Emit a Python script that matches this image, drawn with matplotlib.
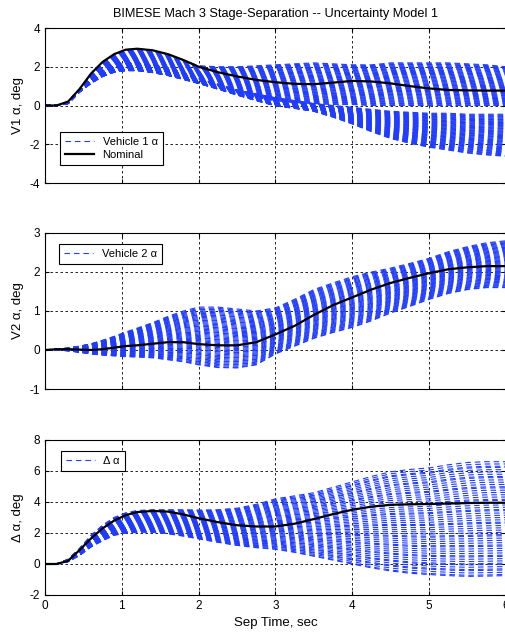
import numpy as np
import matplotlib
matplotlib.use("Agg")
import matplotlib.pyplot as plt

plt.rcParams["font.family"] = ["Liberation Sans", "DejaVu Sans"]
plt.rcParams["axes.unicode_minus"] = False

T = [0, 0.15, 0.3, 0.45, 0.6, 0.75, 0.9, 1.05, 1.2, 1.4, 1.6, 1.8, 2.0, 2.25, 2.5,
     2.75, 3.0, 3.25, 3.5, 3.75, 4.0, 4.25, 4.5, 4.75, 5.0, 5.25, 5.5, 5.75, 6.0]

# -----------------------------
# Vehicle 1 alpha
# -----------------------------
V1_NOM = [0, 0, 0.2, 0.85, 1.65, 2.25, 2.65, 2.88, 2.93, 2.85, 2.65, 2.35, 2.0, 1.72, 1.5,
          1.32, 1.2, 1.12, 1.1, 1.18, 1.27, 1.24, 1.14, 1.0, 0.88, 0.8, 0.78, 0.77, 0.77]
# upper band of dispersed runs
V1_A_HI = [0, 0, 0.2, 0.85, 1.65, 2.25, 2.65, 2.88, 2.93, 2.85, 2.65, 2.35, 2.05, 2.0, 2.0,
           2.05, 2.1, 2.15, 2.2, 2.15, 2.1, 2.1, 2.2, 2.2, 2.2, 2.2, 2.15, 2.1, 2.0]
V1_A_LO = [0, 0, 0.1, 0.7, 1.15, 1.5, 1.72, 1.8, 1.8, 1.7, 1.55, 1.35, 1.14, 0.85, 0.6,
           0.4, 0.25, 0.15, 0.1, 0.05, 0.05, 0.0, 0.0, 0.0, 0.0, 0.0, 0.0, 0.0, 0.0]
# lower band of dispersed runs
V1_B_HI = [0, 0, 0.15, 0.75, 1.3, 1.75, 2.05, 2.2, 2.2, 2.1, 1.95, 1.7, 1.4, 1.1, 0.8,
           0.6, 0.4, 0.25, 0.1, 0.0, -0.1, -0.2, -0.3, -0.35, -0.4, -0.4, -0.45, -0.45, -0.45]
V1_B_LO = [0, 0, 0.1, 0.7, 1.15, 1.5, 1.72, 1.8, 1.8, 1.7, 1.55, 1.35, 1.14, 0.85, 0.54,
           0.25, -0.02, -0.15, -0.3, -0.6, -0.95, -1.35, -1.7, -1.95, -2.15, -2.3, -2.45, -2.55, -2.62]

# -----------------------------
# Vehicle 2 alpha
# -----------------------------
V2_NOM = [0, 0.02, 0.02, 0.01, 0.0, 0.02, 0.06, 0.1, 0.12, 0.16, 0.2, 0.2, 0.15, 0.12, 0.12,
          0.2, 0.4, 0.62, 0.9, 1.15, 1.35, 1.55, 1.72, 1.85, 1.97, 2.07, 2.12, 2.15, 2.15]
V2_HI = [0, 0.02, 0.05, 0.1, 0.16, 0.25, 0.35, 0.46, 0.56, 0.7, 0.86, 1.0, 1.1, 1.1, 1.05,
         1.0, 1.08, 1.3, 1.55, 1.72, 1.88, 2.0, 2.1, 2.22, 2.35, 2.52, 2.65, 2.75, 2.8]
V2_LO = [0, 0.0, -0.02, -0.06, -0.1, -0.13, -0.15, -0.17, -0.18, -0.2, -0.25, -0.3, -0.38, -0.45, -0.46,
         -0.38, -0.1, 0.1, 0.3, 0.45, 0.58, 0.75, 0.95, 1.12, 1.3, 1.45, 1.55, 1.6, 1.6]

# -----------------------------
# Delta alpha
# -----------------------------
DA_NOM = [0, 0, 0.2, 0.9, 1.65, 2.3, 2.8, 3.15, 3.35, 3.42, 3.38, 3.2, 2.95, 2.7, 2.5,
          2.42, 2.42, 2.6, 2.9, 3.22, 3.5, 3.7, 3.82, 3.85, 3.87, 3.9, 3.93, 3.95, 3.95]
DA_HI = [0, 0, 0.3, 1.0, 1.85, 2.5, 3.0, 3.3, 3.45, 3.5, 3.5, 3.5, 3.48, 3.5, 3.6,
         3.85, 4.2, 4.4, 4.6, 4.95, 5.3, 5.65, 5.95, 6.1, 6.2, 6.4, 6.55, 6.6, 6.6]
DA_LO = [0, 0, 0.15, 0.55, 1.1, 1.5, 1.85, 2.0, 2.05, 2.05, 1.95, 1.8, 1.62, 1.4, 1.2,
         1.05, 0.95, 0.75, 0.5, 0.25, 0.0, -0.25, -0.45, -0.6, -0.68, -0.75, -0.8, -0.78, -0.75]

# Position of each dispersed run inside its band (0 = low edge, 1 = high edge)
RUN_W = [0.00, 0.01, 0.03, 0.05, 0.06, 0.08, 0.10, 0.11, 0.13, 0.15, 0.17, 0.18, 0.20,
         0.22, 0.24, 0.26, 0.27, 0.29, 0.31, 0.33, 0.35, 0.36, 0.38, 0.40, 0.42, 0.44,
         0.46, 0.47, 0.49, 0.51, 0.53, 0.55, 0.57, 0.58, 0.60, 0.62, 0.64, 0.66, 0.67,
         0.69, 0.71, 0.73, 0.75, 0.77, 0.78, 0.80, 0.82, 0.84, 0.86, 0.87, 0.89, 0.91,
         0.93, 0.95, 0.96, 0.98, 1.00]

BLUE = "#1f3cff"
DASH = (5, 3.5)


def draw_runs(ax, lo, hi, label=None):
    # Draws the dispersed runs spread between the low and high edge of a band
    lo = np.array(lo)
    hi = np.array(hi)
    for i, w in enumerate(RUN_W):
        ax.plot(T, lo + w * (hi - lo), color=BLUE, lw=0.8, dashes=DASH,
                label=label if i == 0 else None)


def style_axes(ax, ylim, yticks):
    ax.set_xlim(0, 6)
    ax.set_ylim(*ylim)
    ax.set_yticks(yticks)
    ax.set_xticks(range(7))
    ax.grid(True, color="black", linestyle=(0, (3, 3)), linewidth=0.6)
    ax.tick_params(direction="in", length=3, labelsize=8.5, top=True, right=True)
    for s in ax.spines.values():
        s.set_linewidth(0.8)


fig = plt.figure(figsize=(5.06, 6.35), dpi=100)
ax1 = fig.add_axes([0.0889, 0.7118, 0.9111, 0.2441])
ax2 = fig.add_axes([0.0889, 0.3874, 0.9111, 0.2457])
ax3 = fig.add_axes([0.0889, 0.0630, 0.9111, 0.2441])

leg_kw = dict(fontsize=8, fancybox=False, edgecolor="black", framealpha=1,
              handlelength=2.6, borderpad=0.45, labelspacing=0.3)

# Top panel: vehicle 1 angle of attack
draw_runs(ax1, V1_A_LO, V1_A_HI, "Vehicle 1 \u03b1")
draw_runs(ax1, V1_B_LO, V1_B_HI)
ax1.plot(T, V1_NOM, color="black", lw=1.6, label="Nominal")
style_axes(ax1, (-4, 4), [-4, -2, 0, 2, 4])
ax1.set_xticklabels([])
ax1.set_ylabel("V1 \u03b1, deg", fontsize=9.5)
ax1.set_title("BIMESE Mach 3 Stage-Separation -- Uncertainty Model 1", fontsize=9.2, pad=8)
l1 = ax1.legend(loc="lower left", bbox_to_anchor=(0.02, 0.08), **leg_kw)
l1.get_frame().set_linewidth(0.8)

# Middle panel: vehicle 2 angle of attack
draw_runs(ax2, V2_LO, V2_HI, "Vehicle 2 \u03b1")
ax2.plot(T, V2_NOM, color="black", lw=1.6)
style_axes(ax2, (-1, 3), [-1, 0, 1, 2, 3])
ax2.set_xticklabels([])
ax2.set_ylabel("V2 \u03b1, deg", fontsize=9.5)
l2 = ax2.legend(loc="upper left", bbox_to_anchor=(0.018, 0.965), **leg_kw)
l2.get_frame().set_linewidth(0.8)

# Bottom panel: relative angle of attack
draw_runs(ax3, DA_LO, DA_HI, "\u0394 \u03b1")
ax3.plot(T, DA_NOM, color="black", lw=1.6)
style_axes(ax3, (-2, 8), [-2, 0, 2, 4, 6, 8])
ax3.set_ylabel("\u0394 \u03b1, deg", fontsize=9.5)
ax3.set_xlabel("Sep Time, sec", fontsize=9.5)
l3 = ax3.legend(loc="upper left", bbox_to_anchor=(0.022, 0.965), **leg_kw)
l3.get_frame().set_linewidth(0.8)

fig.savefig("out.png", dpi=100)
